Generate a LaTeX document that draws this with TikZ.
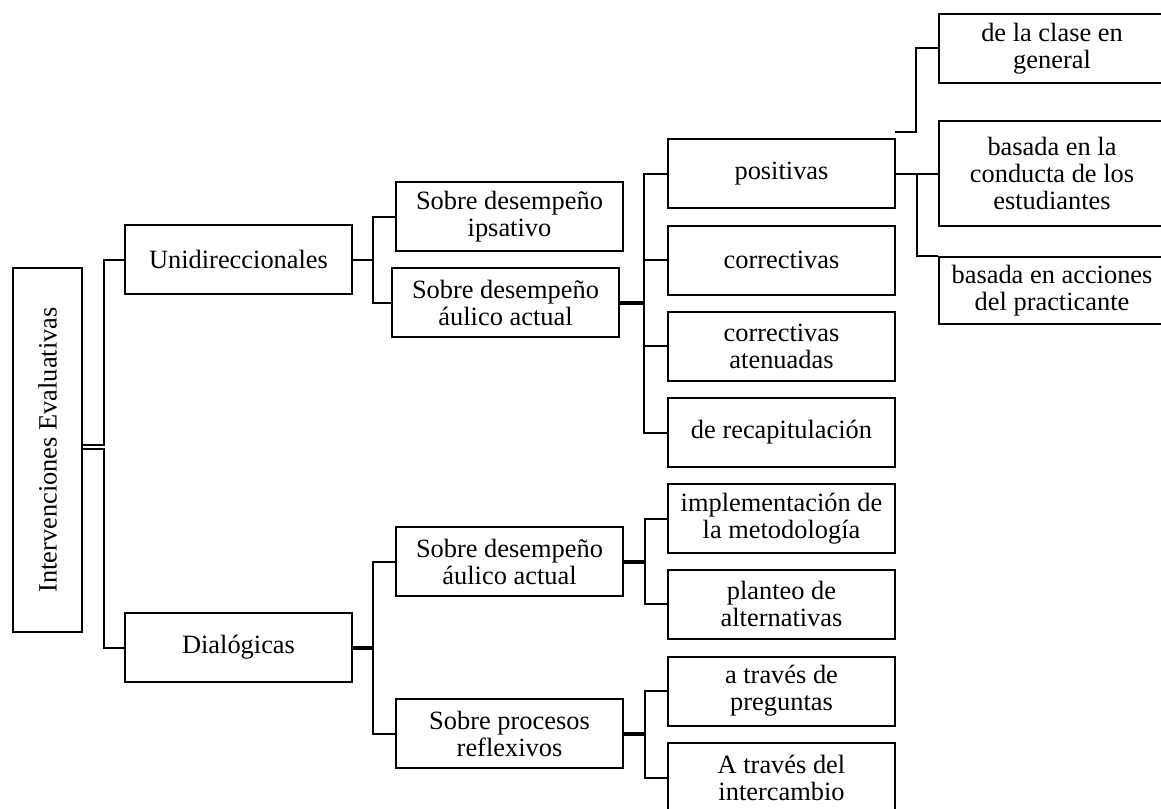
\documentclass[tikz,border=0pt]{standalone}
\usepackage{fontspec}
\setmainfont{Liberation Serif}
\begin{document}
\begin{tikzpicture}[x=1pt,y=-1pt,
  box/.style={draw=black, line width=2pt, inner sep=0pt, align=center,
    font=\fontsize{26.4}{27}\selectfont, minimum height=69pt},
  w227/.style={minimum width=227pt},
  w226/.style={minimum width=226pt},
  conn/.style={draw=black, line width=2pt},
  thickconn/.style={draw=black, line width=4pt}]
\useasboundingbox (0,0) rectangle (1161,808);
\clip (0,0) rectangle (1161,808);
\fill[white] (0,0) rectangle (1161,808);

% level 0
\node[box, minimum width=69pt, minimum height=364pt] (root) at (47.5,450)
  {\rotatebox{90}{Intervenciones Evaluativas}};

% level 1
\node[box,w227] (unid) at (238.5,259.5) {Unidireccionales};
\node[box,w227] (dial) at (238.5,647.5) {Dialógicas};

% level 2
\node[box,w227] (ips) at (509.5,216.5) {Sobre desempeño\\ipsativo};
\node[box,w227] (aul1) at (505.5,302.5) {Sobre desempeño\\áulico actual};
\node[box,w227] (aul2) at (509.5,561.5) {Sobre desempeño\\áulico actual};
\node[box,w227] (proc) at (509.5,733.5) {Sobre procesos\\reflexivos};

% level 3
\node[box,w227] (pos) at (781.5,173.5) {positivas};
\node[box,w227] (corr) at (781.5,260) {correctivas};
\node[box,w227] (aten) at (781.5,346) {correctivas\\atenuadas};
\node[box,w227] (recap) at (781.5,432.5) {de recapitulación};
\node[box,w227] (impl) at (781.5,518.5) {implementación de\\la metodología};
\node[box,w227] (plan) at (781.5,604) {planteo de\\alternativas};
\node[box,w227] (preg) at (781.5,691) {a través de\\preguntas};
\node[box,w227] (inter) at (781.5,777.5) {A través del\\intercambio};

% level 4
\node[box,w226] (clase) at (1052,48.5) {de la clase en\\general};
\node[box,w226, minimum height=105pt] (cond) at (1052,173.5) {basada en la\\conducta de los\\estudiantes};
\node[box,w226, minimum height=67pt] (acc) at (1052,290.5) {basada en acciones\\del practicante};

% connectors root
\draw[conn] ([yshift=5pt]root.east) -- ++(21,0) |- (unid.west);
\draw[conn] ([yshift=1pt]root.east) -- ++(21,0) |- (dial.west);

% unidireccionales
\draw[conn] (unid.east) -- ++(20,0) |- (ips.west);
\draw[conn] (unid.east) ++(20,0) |- (aul1.west);

% dialogicas
\draw[thickconn] (dial.east) -- ++(20,0);
\draw[conn] (dial.east) ++(20,0) |- (aul2.west);
\draw[conn] (dial.east) ++(20,0) |- (proc.west);

% aulico actual (upper)
\draw[thickconn] (aul1.east) -- ++(24,0);
\draw[conn] (aul1.east) ++(24,0) |- (pos.west);
\draw[conn] (aul1.east) ++(24,0) |- (corr.west);
\draw[conn] (aul1.east) ++(24,0) |- (aten.west);
\draw[conn] (aul1.east) ++(24,0) |- (recap.west);

% aulico actual (lower)
\draw[thickconn] (aul2.east) -- ++(21,0);
\draw[conn] (aul2.east) ++(21,0) |- (impl.west);
\draw[conn] (aul2.east) ++(21,0) |- (plan.west);

% procesos
\draw[thickconn] (proc.east) -- ++(21,0);
\draw[conn] (proc.east) ++(21,0) |- (preg.west);
\draw[conn] (proc.east) ++(21,0) |- (inter.west);

% positivas
\draw[conn] (pos.east) -- (cond.west);
\draw[conn] (pos.east) ++(21,0) |- (acc.north west);
\coordinate (k) at (895,132);
\draw[conn] (k) -- ++(21,0) |- (clase.west);
\end{tikzpicture}
\end{document}
